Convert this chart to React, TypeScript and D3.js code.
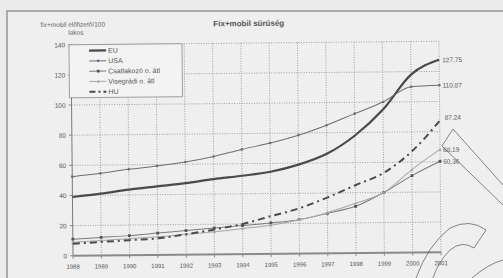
import * as d3 from "d3"

const years = d3.range(1988, 2002)
const eu = [39, 41, 43.5, 45.5, 47.5, 50, 52, 54.5, 59, 66, 78, 95, 118, 127.75]
const usa = [52.5, 54.5, 57, 59, 61.5, 65, 69.5, 73.5, 78.5, 85, 92.5, 100, 110, 110.87]
const csatl = [11, 12, 13, 14.5, 16, 17.5, 19, 20.5, 22.5, 26.5, 31, 40, 51, 60.36]
const viseg = [9, 10, 11, 12, 13.5, 15, 17, 19, 22.5, 27, 33, 40, 55, 68.19]
const hu = [8, 9, 10, 11, 13.5, 16.5, 20, 25, 30, 37, 45, 53, 67, 87.24]
const yTicks = [0, 20, 40, 60, 80, 100, 120, 140]
const endLabels = ["127,75", "110,87", "60,36", "68,19", "87,24"]

type Series = {
  name: string
  values: number[]
  stroke: string
  width: number
  dash?: string
  marker?: "dot" | "square" | "tri"
}

const series: Series[] = [
  { name: "EU", values: eu, stroke: "#4a4a4a", width: 2.2 },
  { name: "USA", values: usa, stroke: "#6e6e6e", width: 1, marker: "dot" },
  { name: "Csatlakozó o. átl", values: csatl, stroke: "#7a7a7a", width: 1, marker: "square" },
  { name: "Visegrádi o. átl", values: viseg, stroke: "#a6a6a6", width: 1, marker: "tri" },
  { name: "HU", values: hu, stroke: "#4a4a4a", width: 2, dash: "7 4 2 4" },
]

const W = 503
const H = 278
const font = "'Liberation Sans', Arial, sans-serif"

function Marker({ kind, x, y, color }: { kind?: string; x: number; y: number; color: string }) {
  if (kind === "dot") return <circle cx={x} cy={y} r={1.3} fill={color} />
  if (kind === "square") return <rect x={x - 1.4} y={y - 1.4} width={2.8} height={2.8} fill="#555" />
  if (kind === "tri") return <path d={`M${x},${y - 1.6}L${x + 1.6},${y + 1.2}L${x - 1.6},${y + 1.2}Z`} fill={color} />
  return null
}

export default function App() {
  const x = d3.scaleLinear([1988, 2001], [72, 440])
  const y = d3.scaleLinear([0, 140], [254, 43])
  const line = d3
    .line<number>()
    .x((_, i) => x(years[i]))
    .y((d) => y(d))
    .curve(d3.curveMonotoneX)

  return (
    <svg
      width={W}
      height={H}
      style={{ position: "absolute", left: 0, top: 0, background: "#ebebeb" }}
      fontFamily={font}
    >
      <rect x={0} y={0} width={W} height={H} fill="#ebebeb" />
      <rect x={7} y={11} width={520} height={300} fill="#efefef" stroke="#9a9a9a" strokeWidth={1.6} />

      <g transform="rotate(-0.55 256 150)">
        <text x={250} y={26} textAnchor="middle" fontSize={8} fontWeight="bold" fill="#555">
          Fix+mobil sűrűség
        </text>
        <text x={74} y={25} textAnchor="middle" fontSize={6.5} fill="#666">
          fix+mobil előfizető/100
        </text>
        <text x={77} y={33} textAnchor="middle" fontSize={6.5} fill="#666">
          lakos
        </text>

        {/* grid */}
        {yTicks.map((t) => (
          <g key={t}>
            {t > 0 && (
              <line x1={x(1988)} x2={x(2001)} y1={y(t)} y2={y(t)} stroke="#8a8a8a" strokeWidth={0.8} strokeDasharray="1 1.5" />
            )}
            <line x1={x(1988) - 3} x2={x(1988)} y1={y(t)} y2={y(t)} stroke="#777" strokeWidth={0.8} />
            <text x={66} y={y(t) + 2.5} textAnchor="end" fontSize={6.5} fill="#555">
              {t}
            </text>
          </g>
        ))}
        {years.map((yr) => (
          <g key={yr}>
            {yr > 1988 && (
              <line x1={x(yr)} x2={x(yr)} y1={y(140)} y2={y(0)} stroke="#8a8a8a" strokeWidth={0.8} strokeDasharray="1 1.5" />
            )}
            <line x1={x(yr)} x2={x(yr)} y1={y(0)} y2={y(0) + 3} stroke="#777" strokeWidth={0.8} />
            <text x={x(yr)} y={y(0) + 13} textAnchor="middle" fontSize={6} fill="#555">
              {yr}
            </text>
          </g>
        ))}
        <line x1={x(1988)} x2={x(1988)} y1={y(140)} y2={y(0)} stroke="#7a7a7a" strokeWidth={1} />
        <line x1={x(1988)} x2={x(2001)} y1={y(0)} y2={y(0)} stroke="#8a8a8a" strokeWidth={1.8} />

        {/* series */}
        {series.map((s) => (
          <g key={s.name}>
            <path d={line(s.values) ?? ""} fill="none" stroke={s.stroke} strokeWidth={s.width} strokeDasharray={s.dash} />
            {s.marker &&
              s.values.map((v, i) => (
                <Marker key={i} kind={s.marker} x={x(years[i])} y={y(v)} color={s.stroke} />
              ))}
          </g>
        ))}

        {/* end labels */}
        {[eu, usa, csatl, viseg, hu].map((vals, i) => (
          <text
            key={i}
            x={x(2001) + (i === 4 ? 5 : 3)}
            y={y(vals[vals.length - 1]) + (i === 4 ? -1 : 2.5)}
            fontSize={6.5}
            fill="#555"
          >
            {endLabels[i]}
          </text>
        ))}

        {/* legend */}
        <g>
          <rect x={70} y={43} width={113} height={53} fill="#f3f3f3" stroke="#8a8a8a" strokeWidth={0.8} />
          {series.map((s, i) => {
            const ly = 49 + i * 10.3
            return (
              <g key={s.name}>
                <line x1={90} x2={107} y1={ly} y2={ly} stroke={s.stroke} strokeWidth={s.width} strokeDasharray={s.dash ? "6 3 2 3" : undefined} />
                <Marker kind={s.marker} x={99} y={ly} color={s.stroke} />
                <text x={109} y={ly + 2.4} fontSize={7} fill="#555">
                  {s.name}
                </text>
              </g>
            )
          })}
        </g>
      </g>

      {/* stamp outline */}
      <g fill="none" stroke="#555" strokeWidth={0.7}>
        <path d="M503,185 L453,129 L442,146 L503,205" />
        <path d="M486,230 Q470,218 450,228 Q428,245 416,278" />
        <path d="M486,230 L474,248 Q462,240 450,250 Q438,262 433,278" />
        <path d="M472,278 Q488,264 503,260" />
      </g>
    </svg>
  )
}
